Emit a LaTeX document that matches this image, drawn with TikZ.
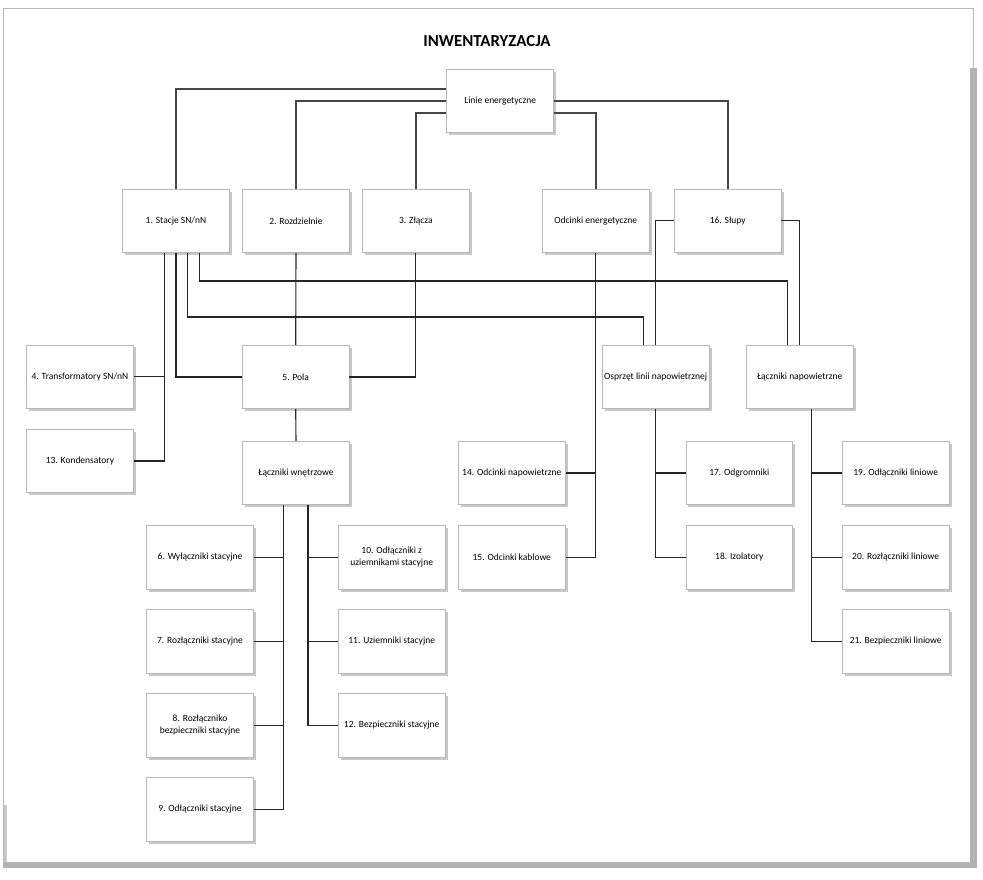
\documentclass[tikz,border=0pt]{standalone}
\usepackage{fontspec}
\setmainfont{Carlito}
\usetikzlibrary{shadows}
\begin{document}
\begin{tikzpicture}[x=1pt,y=-1pt,
  box/.style={draw=black!28, line width=0.8pt, fill=white, minimum width=106.7pt, minimum height=63.5pt,
    inner sep=0pt, align=center, font=\fontsize{9.5}{11.7}\selectfont,
    drop shadow={shadow xshift=2.5pt, shadow yshift=-2.5pt, opacity=1, fill=black!22}},
  connT/.style={draw=black!72, line width=1.7pt},
  conn/.style={draw=black!85, line width=1.1pt},
  ttl/.style={font=\fontsize{16.8}{20}\selectfont\bfseries, inner sep=0pt}]
\useasboundingbox (0,0) rectangle (983,879);
% frame
\fill[black!30] (969.5,68) rectangle (976.5,868);
\fill[black!30] (3,861.5) rectangle (976.5,868);
\fill[black!22] (3,805) rectangle (7,862);
\draw[draw=black!28, line width=1pt] (3,8) rectangle (973,862);
% title
\node[ttl, anchor=base] (title) at (487,46.7) {INWENTARYZACJA};
% boxes
\node[box] (L) at (500.2,100.8) {Linie energetyczne};
\node[box] (S) at (176,220.8) {1. Stacje SN/nN};
\node[box] (R) at (296,220.8) {2. Rozdzielnie};
\node[box] (Z) at (415.8,220.8) {3. Złącza};
\node[box] (OE) at (595.7,220.8) {Odcinki energetyczne};
\node[box] (SL) at (727.7,220.8) {16. Słupy};
\node[box] (T4) at (80,376.7) {4. Transformatory SN/nN};
\node[box] (K13) at (80,461) {13. Kondensatory};
\node[box] (P5) at (295.7,377) {5. Pola};
\node[box] (OS) at (655.7,377) {Osprzęt linii napowietrznej};
\node[box] (LN) at (799.7,377) {Łączniki napowietrzne};
\node[box] (LW) at (296,473) {Łączniki wnętrzowe};
\node[box] (O14) at (511.8,473) {14. Odcinki napowietrzne};
\node[box] (O15) at (511.8,557.3) {15. Odcinki kablowe};
\node[box] (O17) at (739.3,473) {17. Odgromniki};
\node[box] (O18) at (739.3,557.3) {18. Izolatory};
\node[box] (O19) at (895.7,473) {19. Odłączniki liniowe};
\node[box] (O20) at (895.7,557.3) {20. Rozłączniki liniowe};
\node[box] (O21) at (895.7,641.3) {21. Bezpieczniki liniowe};
\node[box] (W6) at (200,557.3) {6. Wyłączniki stacyjne};
\node[box] (W7) at (200,641.3) {7. Rozłączniki stacyjne};
\node[box] (W8) at (200,725.3) {8. Rozłączniko\\bezpieczniki stacyjne};
\node[box] (W9) at (200,809.5) {9. Odłączniki stacyjne};
\node[box] (W10) at (391.7,557.3) {10. Odłączniki z\\uziemnikami stacyjne};
\node[box] (W11) at (391.7,641.3) {11. Uziemniki stacyjne};
\node[box] (W12) at (391.7,725.3) {12. Bezpieczniki stacyjne};
% helper coordinates
\coordinate (yA) at (0,317);
\coordinate (yB) at (0,281);
% top connectors
\draw[connT] ([yshift=11.8pt]L.west) -| (S.north);
\draw[connT] (L.west) -| (R.north);
\draw[connT] ([yshift=-12.2pt]L.west) -| (Z.north);
\draw[connT] ([yshift=-12.2pt]L.east) -| (OE.north);
\draw[connT] (L.east) -| (SL.north);
% Stacje
\draw[conn] ([xshift=-11.7pt]S.south) |- (T4.east);
\draw[conn] ([xshift=-11.7pt]S.south) |- (K13.east);
\draw[conn] (S.south) |- (P5.west);
\draw[conn] ([xshift=11.7pt]S.south) |- ([xshift=-12pt]OS.north |- yA) -- ([xshift=-12pt]OS.north);
\draw[conn] ([xshift=23.3pt]S.south) |- ([xshift=-12pt]LN.north |- yB) -- ([xshift=-12pt]LN.north);
% Rozdzielnie, Zlacza, Pola
\draw[conn] (R.south) -- (P5.north);
\draw[conn] (Z.south) |- (P5.east);
\draw[conn] (P5.south) -- (LW.north);
% Odcinki energetyczne
\draw[conn] (OE.south) |- (O14.east);
\draw[conn] (OE.south) |- (O15.east);
% Slupy
\draw[conn] (SL.west) -| (OS.north);
\draw[conn] (SL.east) -| (LN.north);
% Osprzet
\draw[conn] (OS.south) |- (O17.west);
\draw[conn] (OS.south) |- (O18.west);
% Laczniki napowietrzne
\draw[conn] ([xshift=12pt]LN.south) |- (O19.west);
\draw[conn] ([xshift=12pt]LN.south) |- (O20.west);
\draw[conn] ([xshift=12pt]LN.south) |- (O21.west);
% Laczniki wnetrzowe
\draw[conn] ([xshift=-12.3pt]LW.south) |- (W6.east);
\draw[conn] ([xshift=-12.3pt]LW.south) |- (W7.east);
\draw[conn] ([xshift=-12.3pt]LW.south) |- (W8.east);
\draw[conn] ([xshift=-12.3pt]LW.south) |- (W9.east);
\draw[conn] ([xshift=12pt]LW.south) |- (W10.west);
\draw[conn] ([xshift=12pt]LW.south) |- (W11.west);
\draw[conn] ([xshift=12pt]LW.south) |- (W12.west);
\end{tikzpicture}
\end{document}
